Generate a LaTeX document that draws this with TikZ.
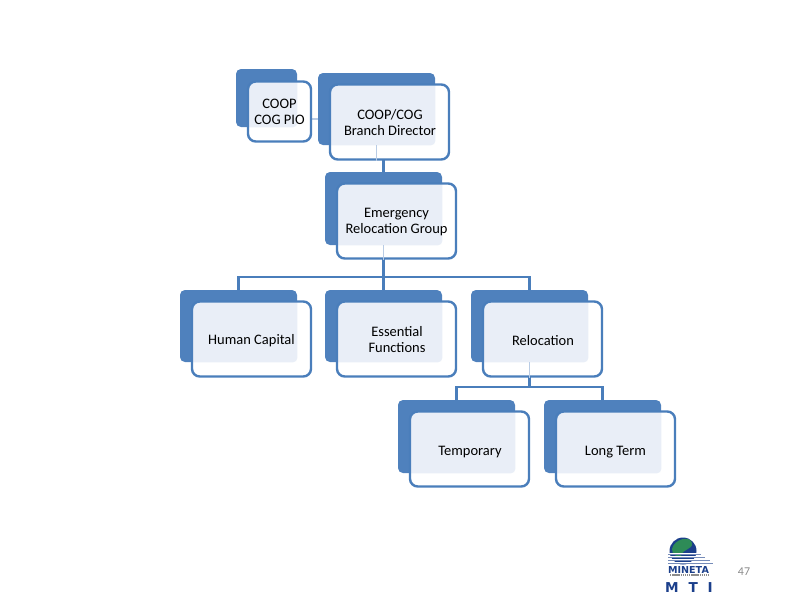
\documentclass[tikz,border=0pt]{standalone}
\usepackage{fontspec}
\setmainfont{Carlito}
\newfontfamily\logofont{DejaVu Sans}
\usepackage{tikz}
\usetikzlibrary{positioning}

\definecolor{backblue}{HTML}{4F81BD}
\definecolor{lineblue}{HTML}{4A7EBB}
\definecolor{paleblue}{HTML}{E9EEF7}
\definecolor{mtinavy}{HTML}{1B3F8B}
\definecolor{globegreen}{HTML}{2E8B57}
\definecolor{pagegray}{HTML}{8C8C8C}

% rectangle tied to the back node, painted only inside the front node
\newcommand{\overlapfill}[1]{\fill[paleblue, rounded corners=3pt] (#1.north west) rectangle (#1.south east);}

\tikzset{
  backbox/.style={fill=backblue, rounded corners=3.5pt, inner sep=0pt, minimum width=#1*0.025cm},
  backbox/.default=117,
  frontbox/.style={draw=lineblue, line width=1.7pt, fill=white, rounded corners=5.5pt, inner sep=0pt, minimum width=119*0.025cm, minimum height=75*0.025cm},
  boxtext/.style={inner sep=0pt, align=center, font=\fontsize{10.3}{11.2}\selectfont, text=black},
  conn/.style={draw=lineblue, line width=1.7pt},
  paleconn/.style={draw=paleblue!70!lineblue, line width=0.8pt}
}

\begin{document}
\begin{tikzpicture}[x=0.025cm, y=-0.025cm]
\path[use as bounding box] (0,0) rectangle (800,600);
% back boxes
\node[backbox=61, minimum height=58*0.025cm] (pioback) at (266.5,98) {};
\node[backbox, minimum height=72*0.025cm] (dirback) at (376.5,109) {};
\node[backbox, minimum height=73*0.025cm] (ergback) at (383.5,208.5) {};
\node[backbox, minimum height=72*0.025cm] (capback) at (238.5,326) {};
\node[backbox, minimum height=72*0.025cm] (essback) at (383.5,326) {};
\node[backbox, minimum height=72*0.025cm] (relback) at (529.5,326) {};
\node[backbox, minimum height=73*0.025cm] (tmpback) at (456.5,436.5) {};
\node[backbox, minimum height=73*0.025cm] (lngback) at (602.5,436.5) {};
% connectors
\coordinate (ergtop) at (ergback.north);
\coordinate (ergbar) at (383.5,277);
\coordinate (relbar) at (529.5,387);
\draw[conn] (dirback.south -| ergtop) -- (ergtop);
\draw[paleconn] (311,119) -- (318,119);
\draw[conn] (ergback.south) -- (essback.north);
\draw[conn] (capback.north) -- (capback.north |- ergbar) -- (relback.north |- ergbar) -- (relback.north);
\draw[conn] (relback.south) -- (relbar);
\draw[conn] (tmpback.north) -- (tmpback.north |- relbar) -- (lngback.north |- relbar) -- (lngback.north);
% front boxes
\node[frontbox, minimum width=63*0.025cm, minimum height=60*0.025cm, path picture={\overlapfill{pioback}}] (pio) at (279.5,111.5) {};
\node[frontbox, path picture={\overlapfill{dirback}}] (dir) at (389.5,122) {};
\node[frontbox, path picture={\overlapfill{ergback}}] (erg) at (396.5,221) {};
\node[frontbox, path picture={\overlapfill{capback}}] (cap) at (251.5,339) {};
\node[frontbox, path picture={\overlapfill{essback}}] (ess) at (396.5,339) {};
\node[frontbox, path picture={\overlapfill{relback}}] (rel) at (542.5,339) {};
\node[frontbox, path picture={\overlapfill{tmpback}}] (tmp) at (469.5,449) {};
\node[frontbox, path picture={\overlapfill{lngback}}] (lng) at (615.5,449) {};
\draw[paleconn] (dirback.south) -- (dirback.south |- dir.south);
\draw[paleconn] (ergback.south) -- (ergback.south |- erg.south);
\draw[paleconn] (relback.south) -- (relback.south |- rel.south);
% box texts
\node[boxtext] (piotext) at (279.5,111.5) {COOP\\COG PIO};
\node[boxtext] (dirtext) at (390,122.5) {COOP/COG\\Branch Director};
\node[boxtext] (ergtext) at (396.5,222) {Emergency\\Relocation Group};
\node[boxtext] (captext) at (251.5,341) {Human Capital};
\node[boxtext] (esstext) at (397,339.5) {Essential\\Functions};
\node[boxtext] (reltext) at (543,341) {Relocation};
\node[boxtext] (tmptext) at (470,452) {Temporary};
\node[boxtext] (lngtext) at (615.5,452) {Long Term};
% logo and page number
\node[circle, fill=mtinavy, minimum size=27*0.025cm, inner sep=0pt] (globe) at (683,551) {};
\fill[globegreen] (672,549) .. controls (674,539) and (690,535) .. (692,543) .. controls (693,550) and (683,548) .. (681,556) .. controls (676,558) and (672,554) .. (672,549);
\foreach \ly/\lx in {554/701, 557/705, 560/710, 563/713} {
  \draw[white, line width=0.6pt] (668,\ly-1) -- (\lx,\ly-1);
  \draw[mtinavy!60, line width=0.4pt] (668,\ly) -- (\lx,\ly);
}
\node[font=\logofont\bfseries\fontsize{6.8}{7}\selectfont, text=mtinavy, inner sep=0pt] (mineta) at (688.5,570) {MINETA};
\draw[pagegray, line width=1.2pt, dash pattern=on 1pt off 0.5pt] (670,575) -- (708,575);
\node[font=\logofont\bfseries\fontsize{9.7}{10}\selectfont, text=mtinavy, inner sep=0pt] (mti) at (689,587.5) {M\hspace{7pt}T\hspace{7pt}I};
\node[font=\fontsize{8.5}{8.5}\selectfont, text=pagegray, inner sep=0pt] (pagenum) at (744,572) {47};
\end{tikzpicture}
\end{document}
